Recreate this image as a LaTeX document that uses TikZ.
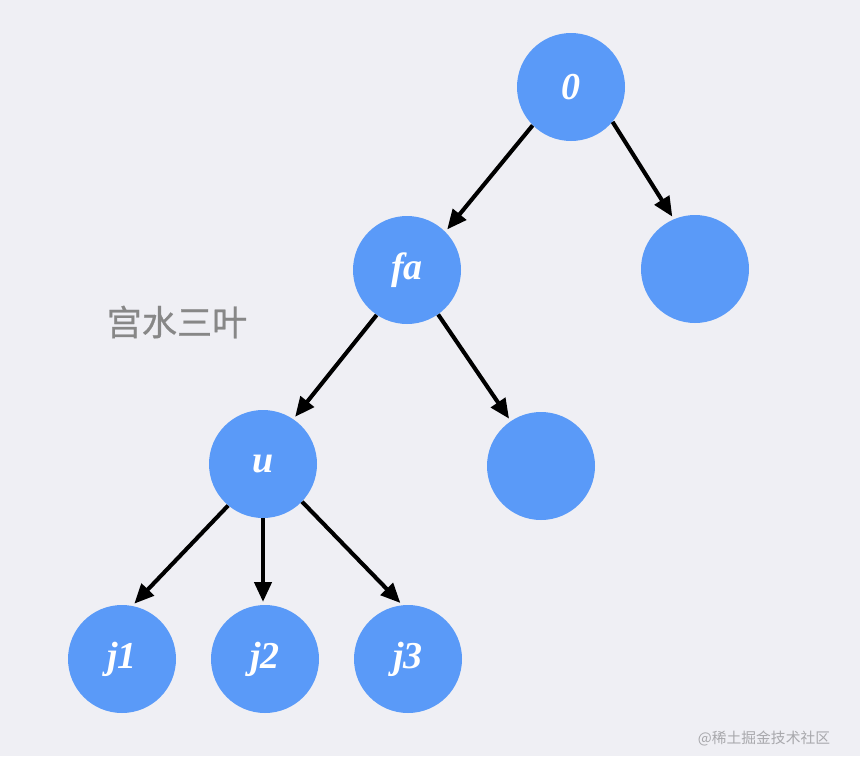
\documentclass[tikz,border=0pt]{standalone}
\usepackage{fontspec}
\setmainfont{Liberation Serif}
\newfontfamily\cjk{Noto Sans CJK SC}
\newfontfamily\cjkb[FakeBold=0.7]{Noto Sans CJK SC}
\usetikzlibrary{arrows.meta}
\definecolor{bgc}{HTML}{EFEFF4}
\definecolor{nodeblue}{HTML}{5A9AF8}
\definecolor{labelgray}{HTML}{878787}
\definecolor{markgray}{HTML}{A8A8AC}
\begin{document}
\begin{tikzpicture}[x=0.025cm,y=-0.025cm,
  tnode/.style={circle,fill=nodeblue,minimum size=108*0.025cm,inner sep=0pt,text=white,font=\fontsize{27}{30}\selectfont\bfseries\itshape},
  edge/.style={line width=2.9pt,-{Triangle[length=14pt,width=12pt]},shorten >=2pt}]
\fill[bgc] (0,0) rectangle (860,756);
\useasboundingbox (0,0) rectangle (860,756);
\node[tnode] (n0) at (571,87) {0};
\node[tnode] (fa) at (407,270) {fa};
\node[tnode] (r1) at (695,269) {};
\node[tnode] (u) at (263,464) {u};
\node[tnode] (r2) at (541,466) {};
\node[tnode] (j1) at (122,659) {j1};
\node[tnode] (j2) at (265,659) {j2};
\node[tnode] (j3) at (408,659) {j3};
\draw[edge] (n0.225) -- (fa.45);
\draw[edge] (n0.320) -- (r1.113);
\draw[edge] (fa.236) -- (u.56);
\draw[edge] (fa.305) -- (r2.124);
\draw[edge] (u.230) -- (j1.79);
\draw[edge] (u.270) -- (u.270 |- j2.north);
\draw[edge] (u.316) -- (j3.96);
\node[text=labelgray,font=\cjkb\fontsize{25}{28}\selectfont] (lbl) at (177,322) {宫水三叶};
\node[text=markgray,font=\cjk\fontsize{10.5}{12}\selectfont] (wm) at (764,738) {@稀土掘金技术社区};
\end{tikzpicture}
\end{document}
